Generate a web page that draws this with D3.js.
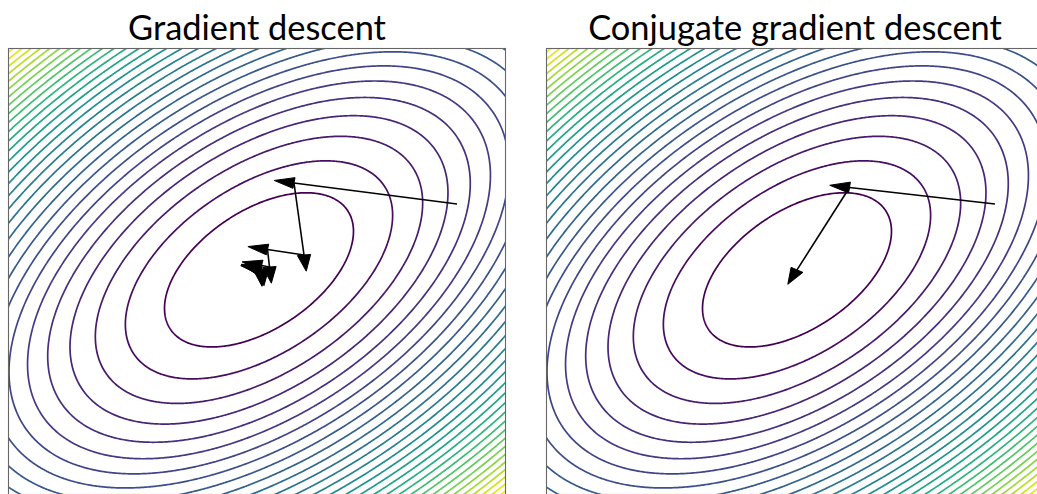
<!DOCTYPE html>
<html><head><meta charset="utf-8">
<script src="https://cdn.jsdelivr.net/npm/d3@7"></script>
<style>body{margin:0;background:#fff;} svg{display:block;}</style>
</head><body>
<svg id="chart" width="1037" height="494"></svg>
<script>
// ---------------- data ----------------
const panelTitles = ["Gradient descent", "Conjugate gradient descent"];
const xDomain = [-5, 5];
const yDomain = [-5.5, 5.5];
const minimum = [0.04, 0.04];
// f(x,y) = qa*dx^2 + qb*dx*dy + qc*dy^2, dx = x - minimum[0], dy = y - minimum[1]
const quadCoef = [1, -1, 1];
const levelStep = 2.7;
const levelCount = 30;
// gradient descent iterates
const gdX = [4.016, 0.743, 0.944, 0.211, 0.251, 0.090, 0.100, 0.064, 0.066, 0.058];
const gdY = [1.661, 2.178, 0.406, 0.541, 0.111, 0.148, 0.049, 0.057, 0.034, 0.037];
// conjugate gradient iterates
const cgX = [4.016, 1.094, 0.04];
const cgY = [1.661, 2.067, 0.04];
const arrowHeadWidth = 0.267;
const arrowHeadLength = 0.40;

// ---------------- layout ----------------
const panelW = 498, panelH = 447, panelTop = 48;
const panelLefts = [8, 546];
const svg = d3.select("#chart");
svg.append("rect").attr("width", 1037).attr("height", 494).attr("fill", "#fff");

const levels = d3.range(1, levelCount + 1).map(k => k * levelStep);
const color = d3.scaleSequential(d3.interpolateViridis).domain([levels[0], levels[levels.length - 1]]);

// grid over an extended domain so outer boundary rings fall outside the clip
const ext = 0.7, gStep = 0.025;
const gx0 = xDomain[0] - ext, gx1 = xDomain[1] + ext;
const gy0 = yDomain[0] - ext, gy1 = yDomain[1] + ext;
const nx = Math.round((gx1 - gx0) / gStep) + 1;
const ny = Math.round((gy1 - gy0) / gStep) + 1;
const values = new Float64Array(nx * ny);
for (let j = 0; j < ny; j++) {
  const y = gy0 + j * gStep - minimum[1];
  for (let i = 0; i < nx; i++) {
    const x = gx0 + i * gStep - minimum[0];
    values[j * nx + i] = quadCoef[0] * x * x + quadCoef[1] * x * y + quadCoef[2] * y * y;
  }
}
const contourSet = d3.contours().size([nx, ny]).thresholds(levels)(values);

const paths = [[gdX, gdY], [cgX, cgY]];

panelLefts.forEach((left, p) => {
  const xs = d3.scaleLinear().domain(xDomain).range([left, left + panelW]);
  const ys = d3.scaleLinear().domain(yDomain).range([panelTop + panelH, panelTop]);
  const g = svg.append("g");
  const clipId = "clip" + p;
  g.append("clipPath").attr("id", clipId).append("rect")
    .attr("x", left).attr("y", panelTop).attr("width", panelW).attr("height", panelH);
  const proj = d3.geoTransform({
    point(x, y) {
      this.stream.point(xs(gx0 + (x - 0.5) * gStep), ys(gy0 + (y - 0.5) * gStep));
    }
  });
  const geo = d3.geoPath(proj);
  g.append("g").attr("clip-path", `url(#${clipId})`)
    .selectAll("path").data(contourSet).join("path")
    .attr("d", geo)
    .attr("fill", "none")
    .attr("stroke", d => color(d.value))
    .attr("stroke-width", 1.7)
    .attr("stroke-linejoin", "round");

  // spines
  g.append("rect").attr("x", left + 0.5).attr("y", panelTop + 0.5)
    .attr("width", panelW - 1).attr("height", panelH - 1)
    .attr("fill", "none").attr("stroke", "#666").attr("stroke-width", 1.1);

  // arrows
  const [PX, PY] = paths[p];
  const ag = g.append("g");
  for (let i = 0; i < PX.length - 1; i++) {
    const sx = PX[i], sy = PY[i], ex = PX[i + 1], ey = PY[i + 1];
    const L = Math.hypot(ex - sx, ey - sy);
    const dx = (ex - sx) / L, dy = (ey - sy) / L;
    const nxp = -dy, nyp = dx;
    ag.append("line")
      .attr("x1", xs(sx)).attr("y1", ys(sy)).attr("x2", xs(ex)).attr("y2", ys(ey))
      .attr("stroke", "#000").attr("stroke-width", 1.6);
    const tri = [
      [ex + nxp * arrowHeadWidth / 2, ey + nyp * arrowHeadWidth / 2],
      [ex + dx * arrowHeadLength, ey + dy * arrowHeadLength],
      [ex - nxp * arrowHeadWidth / 2, ey - nyp * arrowHeadWidth / 2]
    ];
    ag.append("path")
      .attr("d", d3.line().x(d => xs(d[0])).y(d => ys(d[1])).curve(d3.curveLinearClosed)(tri))
      .attr("fill", "#000").attr("stroke", "#000").attr("stroke-width", 1).attr("stroke-linejoin", "miter");
  }

  // title
  svg.append("text")
    .attr("class", "title")
    .attr("x", left + panelW / 2).attr("y", 40)
    .attr("text-anchor", "middle")
    .attr("font-family", "Lato, 'Open Sans', sans-serif")
    .attr("font-size", 35)
    .attr("fill", "#000")
    .text(panelTitles[p]);
});

// fit title size to the reference width of the first title (258px)
const t0 = svg.select("text.title").node();
const w0 = t0.getComputedTextLength();
const fs = 35 * 258 / w0;
svg.selectAll("text.title").attr("font-size", fs);
</script>
</body></html>
